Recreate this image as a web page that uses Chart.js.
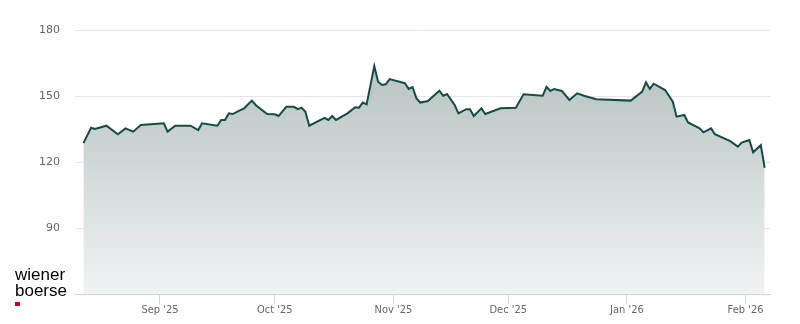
<!DOCTYPE html>
<html>
<head>
<meta charset="utf-8">
<title>wiener boerse</title>
<script src="https://cdn.jsdelivr.net/npm/chart.js@4.4.1/dist/chart.umd.min.js"></script>
<style>
    html, body { margin: 0; padding: 0; background: #fff; }
    #wrap { position: relative; width: 800px; height: 324px; }
    #logo {
        position: absolute; left: 15px; top: 267px;
        font-family: "Liberation Sans", Arial, sans-serif;
        font-size: 17px; line-height: 16px; color: #000;
    }
    #logo .dot { display: block; width: 5px; height: 4px; margin-top: 3px; background: #d0021b; }
</style>
</head>
<body>
<div id="wrap">
    <canvas id="myChart" width="800" height="324"></canvas>
    <div id="logo">wiener<br>boerse<span class="dot"></span></div>
</div>
<script>
// datos (cierre por dia)
const dates = [
    '2025-08-12', '2025-08-14', '2025-08-15', '2025-08-18', '2025-08-21', '2025-08-23', '2025-08-25', '2025-08-27',
    '2025-09-02', '2025-09-03', '2025-09-05', '2025-09-09', '2025-09-11', '2025-09-12', '2025-09-16', '2025-09-17',
    '2025-09-18', '2025-09-19', '2025-09-20', '2025-09-22', '2025-09-23', '2025-09-25', '2025-09-26', '2025-09-29',
    '2025-10-01', '2025-10-02', '2025-10-04', '2025-10-06', '2025-10-07', '2025-10-08', '2025-10-09', '2025-10-10',
    '2025-10-14', '2025-10-15', '2025-10-16', '2025-10-17', '2025-10-20', '2025-10-22', '2025-10-23', '2025-10-24',
    '2025-10-25', '2025-10-27', '2025-10-28', '2025-10-29', '2025-10-30', '2025-10-31', '2025-11-04', '2025-11-05',
    '2025-11-06', '2025-11-07', '2025-11-08', '2025-11-10', '2025-11-13', '2025-11-14', '2025-11-15', '2025-11-17',
    '2025-11-18', '2025-11-20', '2025-11-21', '2025-11-22', '2025-11-24', '2025-11-25', '2025-11-29', '2025-12-03',
    '2025-12-05', '2025-12-10', '2025-12-11', '2025-12-12', '2025-12-13', '2025-12-15', '2025-12-17', '2025-12-19',
    '2025-12-21', '2025-12-24', '2026-01-02', '2026-01-05', '2026-01-06', '2026-01-07', '2026-01-08', '2026-01-11',
    '2026-01-13', '2026-01-14', '2026-01-16', '2026-01-17', '2026-01-20', '2026-01-21', '2026-01-23', '2026-01-24',
    '2026-01-28', '2026-01-30', '2026-01-31', '2026-02-02', '2026-02-03', '2026-02-05', '2026-02-06'
];
const prices = [
    128.6, 135.6, 135.0, 136.5, 132.6, 135.3, 133.8, 136.8,
    137.6, 133.8, 136.5, 136.5, 134.5, 137.6, 136.5, 139.1,
    139.1, 142.1, 141.8, 143.6, 144.4, 147.9, 145.9, 141.8,
    141.7, 140.9, 145.1, 145.1, 144.0, 144.7, 142.8, 136.5,
    140.1, 139.1, 140.9, 139.1, 142.1, 144.9, 144.7, 147.0,
    146.2, 163.6, 156.5, 155.0, 155.3, 157.7, 155.8, 153.2,
    154.0, 149.0, 147.0, 147.7, 152.4, 150.1, 150.9, 145.9,
    142.1, 144.0, 144.0, 140.9, 144.4, 141.8, 144.4, 144.7,
    150.8, 150.1, 154.2, 152.3, 153.2, 152.3, 148.2, 151.2,
    150.0, 148.5, 147.9, 152.0, 156.2, 153.2, 155.6, 152.7,
    147.4, 140.6, 141.4, 138.0, 135.3, 133.5, 135.3, 132.6,
    129.5, 127.0, 128.8, 130.0, 124.4, 127.7, 117.4
];
const monthTicks = ['2025-09-01', '2025-10-01', '2025-11-01', '2025-12-01', '2026-01-01', '2026-02-01'];
const monthLabels = ["Sep '25", "Oct '25", "Nov '25", "Dec '25", "Jan '26", "Feb '26"];
const yTicks = [60, 90, 120, 150, 180];

function toDay(s) {
    return Date.UTC(+s.slice(0, 4), +s.slice(5, 7) - 1, +s.slice(8, 10)) / 864e5;
}

var myChart = setupNewGraph('myChart');

function setupNewGraph(ctx) {
    const _ctx = document.getElementById(ctx);
    const points = dates.map((d, i) => ({ x: toDay(d), y: prices[i] }));
    const config = {
        type: 'line',
        data: {
            datasets: [{
                data: points,
                borderColor: '#154c46',
                borderWidth: 2,
                pointRadius: 0,
                tension: 0,
                fill: 'start',
                backgroundColor: function (context) {
                    const area = context.chart.chartArea;
                    if (!area) return 'rgba(0,0,0,0)';
                    const g = context.chart.ctx.createLinearGradient(0, area.top, 0, area.bottom);
                    g.addColorStop(0, '#aebcba');
                    g.addColorStop(1, '#f1f3f3');
                    return g;
                }
            }]
        },
        options: {
            responsive: false,
            animation: false,
            layout: { padding: { top: 30, right: 30, left: 0, bottom: 0 } },
            plugins: {
                legend: { display: false },
                tooltip: { enabled: false }
            },
            scales: {
                x: {
                    type: 'linear',
                    min: toDay(dates[0]) - 2.2,
                    max: toDay(dates[dates.length - 1]) + 1.4,
                    afterBuildTicks: s => { s.ticks = monthTicks.map(d => ({ value: toDay(d) })); },
                    afterFit: s => { s.height = 30; },
                    grid: { drawOnChartArea: false, drawTicks: true, tickLength: 10, color: '#ccd6eb' },
                    border: { color: '#ccd6eb', width: 1 },
                    ticks: {
                        autoSkip: false,
                        maxRotation: 0,
                        padding: 0,
                        color: '#666666',
                        font: { family: '"DejaVu Sans Condensed", "DejaVu Sans"', size: 11 },
                        callback: (v, i) => monthLabels[i]
                    }
                },
                y: {
                    min: 60,
                    max: 180,
                    afterBuildTicks: s => { s.ticks = yTicks.map(v => ({ value: v })); },
                    afterFit: s => { s.width = 75; },
                    grid: {
                        drawTicks: false,
                        color: c => (c.tick && c.tick.value === 60) ? 'rgba(0,0,0,0)' : '#e6e6e6'
                    },
                    border: { display: false },
                    ticks: {
                        padding: 15,
                        color: '#666666',
                        font: { family: '"DejaVu Sans"', size: 11 },
                        callback: v => v === 60 ? '' : v
                    }
                }
            }
        }
    };
    return new Chart(_ctx, config);
}
</script>
</body>
</html>
